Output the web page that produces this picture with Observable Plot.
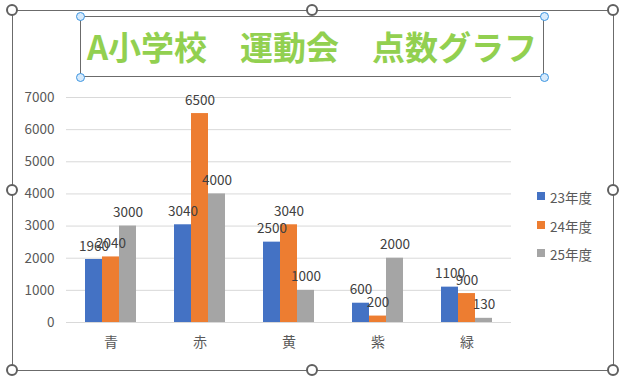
<!DOCTYPE html>
<html>
<head>
<meta charset="utf-8">
<script src="https://cdn.jsdelivr.net/npm/d3@7"></script>
<script src="https://cdn.jsdelivr.net/npm/@observablehq/plot@0.6"></script>
<style>
  html, body { margin: 0; padding: 0; background: #fff; }
  #wrap { position: relative; width: 626px; height: 384px; overflow: hidden; font-family: "Noto Sans CJK JP", "Noto Sans", sans-serif; }
  #chart { position: absolute; left: 0; top: 0; }
  .frame { position: absolute; border: 1px solid #6b6b6b; box-sizing: border-box; }
  .h { position: absolute; width: 12px; height: 12px; border-radius: 50%; border: 2px solid #606060; background: #fff; box-sizing: border-box; }
  .hb { position: absolute; width: 9px; height: 9px; border-radius: 50%; border: 1px solid #3d95e0; background: #d6eafc; box-sizing: border-box; }
  #title { position: absolute; left: 80px; top: 16px; width: 464px; height: 61px; border: 1px solid #6b6b6b; box-sizing: border-box;
           color: #92D050; font-weight: bold; font-size: 33px; line-height: 58px; text-align: center; white-space: nowrap; letter-spacing: 0px; }
  #legend { position: absolute; left: 537px; top: 187px; font-size: 13.5px; color: #595959; }
  #legend div { height: 28.5px; display: flex; align-items: flex-start; }
  #legend span.sw { display: inline-block; width: 8px; height: 8px; margin-top: 5px; margin-right: 5px; }
</style>
</head>
<body>
<div id="wrap">
  <div id="chart"></div>
  <div class="frame" style="left:12px; top:10px; width:602px; height:361px;"></div>
  <div id="title">A小学校　運動会　点数グラフ</div>
  <div id="legend"></div>
</div>
<script>
const categories = ["青", "赤", "黄", "紫", "緑"];
const seriesNames = ["23年度", "24年度", "25年度"];
const values23 = [1960, 3040, 2500, 600, 1100];
const values24 = [2040, 6500, 3040, 200, 900];
const values25 = [3000, 4000, 1000, 2000, 130];
const seriesColors = ["#4472C4", "#ED7D31", "#A5A5A5"];
const yTicks = [0, 1000, 2000, 3000, 4000, 5000, 6000, 7000];

const allValues = [values23, values24, values25];
const data = [];
categories.forEach((c, i) => {
  seriesNames.forEach((s, j) => {
    data.push({category: c, series: s, value: allValues[j][i]});
  });
});

const chart = Plot.plot({
  width: 626,
  height: 384,
  marginLeft: 65,
  marginRight: 114,
  marginTop: 97,
  marginBottom: 62,
  style: {fontFamily: "'Noto Sans CJK JP', 'Noto Sans', sans-serif", fontSize: "13.5px", color: "#595959", background: "transparent"},
  facet: {data, x: "category"},
  fx: {domain: categories, padding: 0, axis: "bottom", tickSize: 0, tickPadding: 15, label: null},
  x: {domain: seriesNames, paddingInner: 0, paddingOuter: 1.07, axis: null},
  y: {domain: [0, 7000], ticks: yTicks, tickFormat: d => String(d), tickSize: 0, tickPadding: 12, label: null},
  color: {domain: seriesNames, range: seriesColors},
  marks: [
    Plot.ruleY(yTicks, {y: d => d, stroke: "#d9d9d9", strokeWidth: 1, strokeOpacity: 1, facet: false}),
    Plot.barY(data, {x: "series", y: "value", fill: "series"}),
    Plot.text(data, {x: "series", y: "value", text: d => String(d.value), dy: -9, lineAnchor: "bottom", fill: "#404040", fontSize: 13.5})
  ]
});
chart.querySelectorAll("g[aria-label='fx-axis tick label'] text, g[aria-label='fx-axis'] text").forEach(t => t.setAttribute("font-size", "14"));
document.getElementById("chart").appendChild(chart);

const legend = document.getElementById("legend");
seriesNames.forEach((s, j) => {
  const row = document.createElement("div");
  const sw = document.createElement("span");
  sw.className = "sw";
  sw.style.background = seriesColors[j];
  row.appendChild(sw);
  row.appendChild(document.createTextNode(s));
  legend.appendChild(row);
});

const wrap = document.getElementById("wrap");
[[12,10],[312,10],[613,10],[12,190],[613,190],[12,370],[312,370],[613,370]].forEach(([x,y]) => {
  const h = document.createElement("div");
  h.className = "h";
  h.style.left = (x - 6) + "px";
  h.style.top = (y - 6) + "px";
  wrap.appendChild(h);
});
[[80,16],[544,16],[80,77],[544,77]].forEach(([x,y]) => {
  const h = document.createElement("div");
  h.className = "hb";
  h.style.left = (x - 4.5) + "px";
  h.style.top = (y - 4.5) + "px";
  wrap.appendChild(h);
});
</script>
</body>
</html>
